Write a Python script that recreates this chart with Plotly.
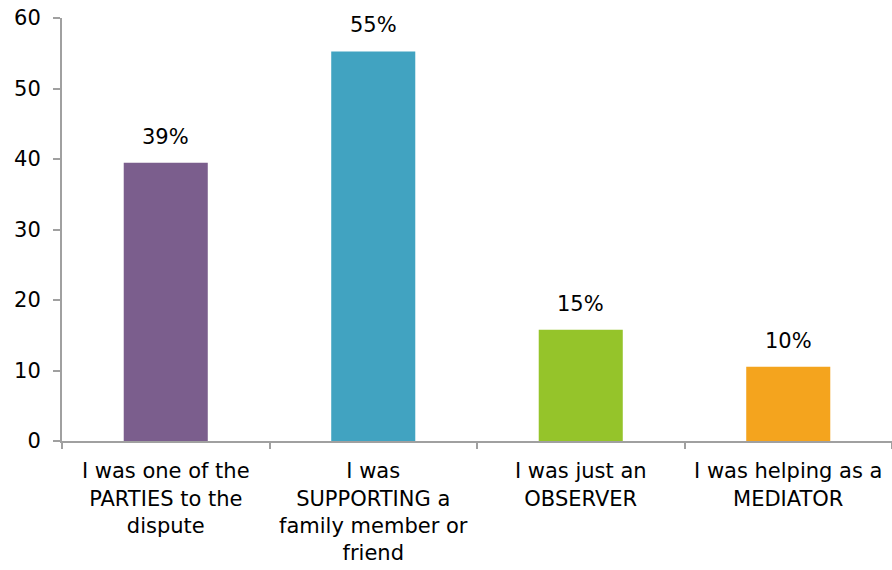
import plotly.graph_objects as go

# Survey: role of respondent in the dispute (percent of respondents)
categories = [
    "I was one of the<br>PARTIES to the<br>dispute",
    "I was<br>SUPPORTING a<br>family member or<br>friend",
    "I was just an<br>OBSERVER",
    "I was helping as a<br>MEDIATOR",
]
values = [39.47, 55.26, 15.79, 10.53]
bar_colors = ["#7B5E8D", "#41A3C1", "#95C42A", "#F4A41E"]
y_ticks = [0, 10, 20, 30, 40, 50, 60]

labels = [f"{int(v)}%" for v in values]
FONT = "'DejaVu Sans', sans-serif"
SIZE = 21
AXIS_GREY = "#A0A0A0"

fig = go.Figure(
    go.Bar(
        x=list(range(len(categories))),
        y=values,
        marker=dict(color=bar_colors, line=dict(width=0)),
        width=0.405,
        hoverinfo="skip",
    )
)

# Value labels above each bar
for i, (v, lab) in enumerate(zip(values, labels)):
    fig.add_annotation(
        x=i, y=v, text=lab, showarrow=False,
        yanchor="bottom", yshift=12,
        font=dict(family=FONT, size=SIZE, color="#000000"),
    )

fig.update_layout(
    width=892,
    height=570,
    margin=dict(l=62, r=0, t=18, b=129),
    paper_bgcolor="white",
    plot_bgcolor="white",
    showlegend=False,
    font=dict(family=FONT, size=SIZE, color="#000000"),
)

fig.update_xaxes(
    range=[-0.5, len(categories) - 0.5],
    tickmode="array",
    tickvals=list(range(len(categories))),
    ticktext=categories,
    ticks="",
    ticklabelstandoff=10,
    showline=True,
    linecolor=AXIS_GREY,
    linewidth=2,
    showgrid=False,
    zeroline=False,
    tickfont=dict(family=FONT, size=SIZE, color="#000000"),
)

# Tick marks on the category boundaries
fig.update_layout(xaxis2=dict(
    overlaying="x",
    range=[-0.5, len(categories) - 0.5],
    tickmode="array",
    tickvals=[i - 0.5 for i in range(len(categories) + 1)],
    ticktext=[""] * (len(categories) + 1),
    ticks="outside",
    ticklen=7,
    tickwidth=2,
    tickcolor=AXIS_GREY,
    showgrid=False,
    showline=False,
    zeroline=False,
))
fig.add_trace(go.Scatter(x=[], y=[], xaxis="x2", showlegend=False))

fig.update_yaxes(
    range=[0, 60],
    tickmode="array",
    tickvals=y_ticks,
    ticks="outside",
    ticklen=7,
    tickwidth=2,
    tickcolor=AXIS_GREY,
    ticklabelstandoff=8,
    showline=True,
    linecolor=AXIS_GREY,
    linewidth=2,
    showgrid=False,
    zeroline=False,
    tickfont=dict(family=FONT, size=SIZE, color="#000000"),
)

fig.write_html("out.html")
